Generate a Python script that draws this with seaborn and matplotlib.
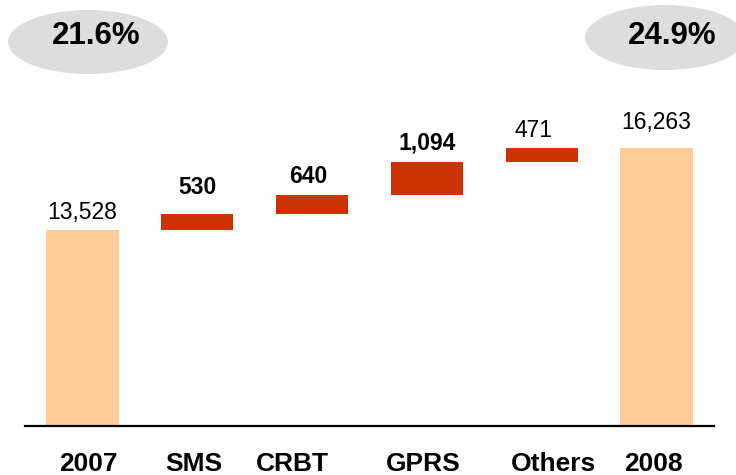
import matplotlib
matplotlib.use("Agg")
import matplotlib.pyplot as plt
from matplotlib.patches import Ellipse
from matplotlib.transforms import ScaledTranslation
import seaborn as sns
import numpy as np

# Revenue bridge data
categories = ["2007", "SMS", "CRBT", "GPRS", "Others", "2008"]
values = [13528, 530, 640, 1094, 471, 16263]
is_total = [True, False, False, False, False, True]
value_labels = ["13,528", "530", "640", "1,094", "471", "16,263"]
label_bold = [False, True, True, True, False, False]
margins = ["21.6%", "24.9%"]

# Styling
total_color = "#FFCC99"
delta_color = "#CC3300"
ellipse_color = "#DDDDDD"
y_floor = 7000
units_per_px = 33.35

sns.set_theme(style="white")
plt.rcParams["font.family"] = ["Liberation Sans", "DejaVu Sans"]

fig = plt.figure(figsize=(7.36, 4.75), dpi=100)
W, H = 736, 475
ax = fig.add_axes([25 / W, 49 / H, 689 / W, 426 / H])

# Bar tops and bottoms for the waterfall
tops, bottoms = [], []
running = 0
for v, tot in zip(values, is_total):
    if tot:
        bottoms.append(0)
        tops.append(v)
        running = v
    else:
        bottoms.append(running)
        running += v
        tops.append(running)

colors = [total_color if t else delta_color for t in is_total]
sns.barplot(x=categories, y=tops, hue=categories, palette=colors,
            legend=False, width=0.63, ax=ax, saturation=1, linewidth=0)

# Lift the increment bars so they float on the running total
for patch, b, t in zip(ax.patches, bottoms, tops):
    patch.set_y(b)
    patch.set_height(t - b)

ax.set_xlim(-0.5, 5.5)
ax.set_ylim(y_floor, y_floor + 426 * units_per_px)
ax.set_ylabel("")
ax.set_yticks([])
for side in ["top", "right", "left"]:
    ax.spines[side].set_visible(False)
ax.spines["bottom"].set_color("black")
ax.spines["bottom"].set_linewidth(1.6)

# Category labels
ax.tick_params(axis="x", length=0, pad=18.5)
tick_dx = [6, -3, -20, -4, 12, -3]
for lbl, dx in zip(ax.get_xticklabels(), tick_dx):
    lbl.set_fontsize(19)
    lbl.set_fontweight("bold")
    lbl.set_color("black")
    lbl.set_transform(lbl.get_transform() + ScaledTranslation(dx / 100, 0, fig.dpi_scale_trans))

# Value labels above bars
label_dx = [0, 0, -4, 0, -8, 0]
label_gap = [11, 20, 12, 13, 11, 19]
for i, (txt, top, bold) in enumerate(zip(value_labels, tops, label_bold)):
    ax.annotate(txt, xy=(i, top), xytext=(label_dx[i] * 0.72, label_gap[i] * 0.72),
                textcoords="offset points", ha="center", va="baseline",
                fontsize=16.5, fontweight="bold" if bold else "normal", color="black")

# Margin ellipses
ellipse_specs = [((88, 42), 160, 64, (96, 36)), ((665, 37.5), 160, 65, (672, 36))]
for (center, ew, eh, tpos), txt in zip(ellipse_specs, margins):
    e = Ellipse((center[0] / W, 1 - center[1] / H), ew / W, eh / H,
                transform=fig.transFigure, facecolor=ellipse_color, edgecolor="none")
    fig.add_artist(e)
    fig.text(tpos[0] / W, 1 - tpos[1] / H, txt, ha="center", va="center",
             fontsize=22.5, fontweight="bold", color="black")

fig.savefig("out.png", dpi=100, facecolor="white")
